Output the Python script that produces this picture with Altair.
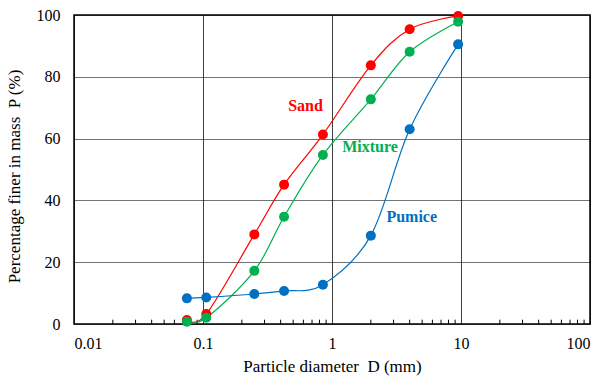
import altair as alt
import pandas as pd

sizes = [0.075, 0.106, 0.25, 0.425, 0.85, 2.0, 4.0, 9.5]
sand = [1.3, 3.2, 29.0, 45.1, 61.3, 83.7, 95.4, 99.7]
mixture = [0.7, 2.0, 17.2, 34.7, 54.7, 72.7, 88.1, 97.8]
pumice = [8.3, 8.6, 9.7, 10.7, 12.7, 28.6, 63.0, 90.5]

series_names = ["Pumice", "Sand", "Mixture"]
series_colors = ["#0070C0", "#FF0000", "#00B050"]

label_text = ["Sand", "Mixture", "Pumice"]
label_x = [0.623, 1.97, 4.15]
label_y = [70.6, 57.2, 34.7]
label_colors = ["#FF0000", "#00B050", "#0070C0"]

x_ticks = [0.01, 0.1, 1, 10, 100]
y_ticks = [0, 20, 40, 60, 80, 100]
minor_ticks = [m * d for d in [0.01, 0.1, 1, 10] for m in range(2, 10)]

rows = []
for name, vals in zip(["Sand", "Mixture", "Pumice"], [sand, mixture, pumice]):
    for s, v in zip(sizes, vals):
        rows.append({"series": name, "D": s, "P": v})
df = pd.DataFrame(rows)
labels = pd.DataFrame({"text": label_text, "D": label_x, "P": label_y, "color": label_colors})
minor = pd.DataFrame({"D": minor_ticks, "y0": [0] * len(minor_ticks), "y1": [1.4] * len(minor_ticks)})

FONT = "Liberation Serif"

xscale = alt.Scale(type="log", domain=[0.01, 100])
yscale = alt.Scale(domain=[0, 100])
color = alt.Color("series:N", scale=alt.Scale(domain=series_names, range=series_colors), legend=None)

xaxis = alt.Axis(values=x_ticks, format="~g", title="Particle diameter\u00a0\u00a0D (mm)",
                 grid=True, gridColor="#000000", gridOpacity=0.75, gridWidth=1,
                 ticks=False, labelPadding=11, titlePadding=7, domain=False)
yaxis = alt.Axis(values=y_ticks, title="Percentage finer in mass\u00a0\u00a0P (%)",
                 grid=True, gridColor="#000000", gridOpacity=0.55, gridWidth=1,
                 ticks=False, labelPadding=14, titlePadding=13, domain=False,
                 titleY=161)

base = alt.Chart(df)
lines = base.mark_line(interpolate="cardinal", tension=0, strokeWidth=1.2).encode(
    x=alt.X("D:Q", scale=xscale, axis=xaxis),
    y=alt.Y("P:Q", scale=yscale, axis=yaxis),
    color=color,
    order=alt.Order("D:Q"),
    detail="series:N",
)
points = base.mark_circle(size=100, opacity=1).encode(
    x=alt.X("D:Q", scale=xscale),
    y=alt.Y("P:Q", scale=yscale),
    color=color,
)
minor_rules = alt.Chart(minor).mark_rule(color="#000000", strokeWidth=1).encode(
    x=alt.X("D:Q", scale=xscale),
    y=alt.Y("y0:Q", scale=yscale),
    y2="y1:Q",
)
texts = alt.Chart(labels).mark_text(font=FONT, fontSize=16, fontWeight="bold").encode(
    x=alt.X("D:Q", scale=xscale),
    y=alt.Y("P:Q", scale=yscale),
    text="text:N",
    color=alt.Color("color:N", scale=None),
)

chart = alt.layer(minor_rules, lines, points, texts).properties(
    width=516, height=309,
    autosize=alt.AutoSizeParams(type="none"),
    padding={"left": 74, "top": 15, "right": 13, "bottom": 56},
    background="#ffffff",
).configure_view(
    stroke="#000000", strokeWidth=1.5
).configure_axis(
    labelFont=FONT, titleFont=FONT, labelFontSize=16, titleFontSize=17,
    labelColor="#000000", titleColor="#000000", titleFontWeight="normal",
)

chart.save("out.html", embed_options={"renderer": "svg", "actions": False})
